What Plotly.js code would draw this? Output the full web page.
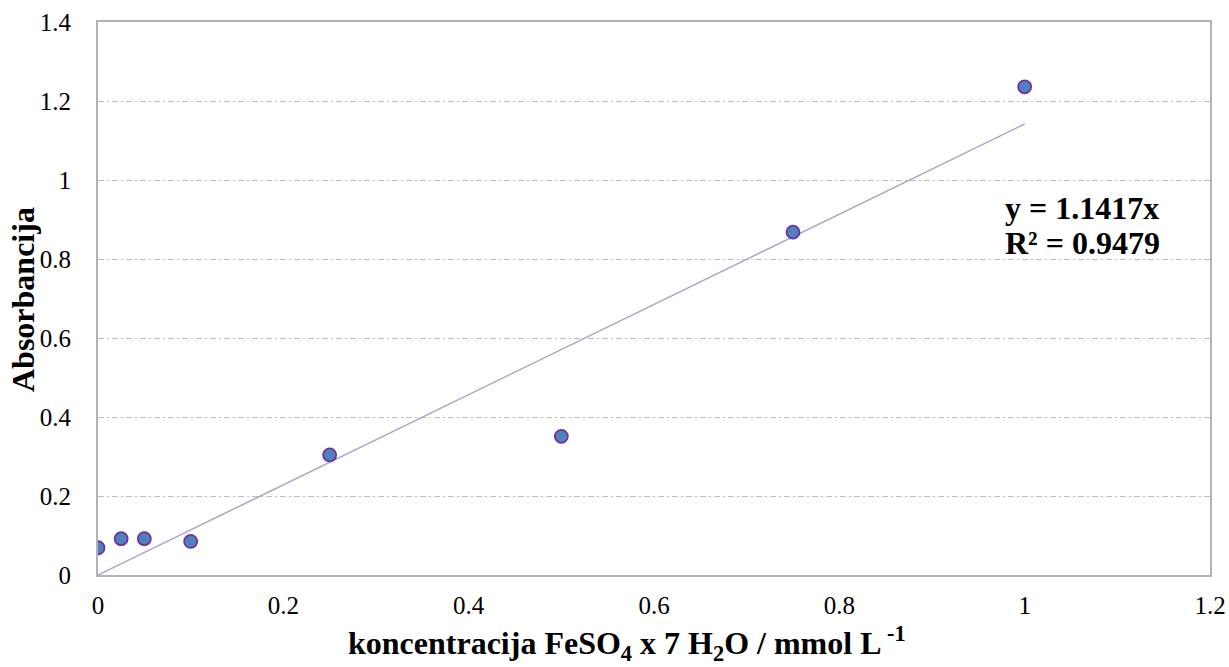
<!DOCTYPE html>
<html>
<head>
<meta charset="utf-8">
<script src="https://cdn.plot.ly/plotly-3.0.1.min.js"></script>
<style>html,body{margin:0;padding:0;background:#fff;}#chart{width:1229px;height:667px;}</style>
</head>
<body>
<div id="chart"></div>
<script>
const concentration = [0, 0.025, 0.05, 0.1, 0.25, 0.5, 0.75, 1.0];
const absorbance = [0.069, 0.092, 0.092, 0.085, 0.304, 0.351, 0.868, 1.236];
const slope = 1.1417;
const trendX = [0, 1.0];
const trendY = trendX.map(v => slope * v);
const equationText = 'y = 1.1417x';
const r2Text = 'R² = 0.9479';
const xTitle = 'koncentracija FeSO<sub>4</sub> x 7 H<sub>2</sub>O / mmol L<sup> -1</sup>';
const yTitle = 'Absorbancija';

const font = 'Liberation Serif, Times New Roman, serif';

const traces = [
  {x: trendX, y: trendY, mode: 'lines', type: 'scatter',
   line: {color: '#b3a2c7', width: 1.5}, hoverinfo: 'skip'},
  {x: concentration, y: absorbance, mode: 'markers', type: 'scatter',
   marker: {size: 13, color: '#4f81bd', line: {color: '#7030a0', width: 1.8}}}
];

const layout = {
  width: 1229, height: 667,
  margin: {l: 98, r: 19, t: 22, b: 92},
  paper_bgcolor: '#fff', plot_bgcolor: '#fff',
  showlegend: false,
  font: {family: font, color: '#000', size: 25},
  xaxis: {range: [0, 1.2], dtick: 0.2, showgrid: false, zeroline: false,
          showline: true, linecolor: '#b3b3b3', linewidth: 2, mirror: true,
          ticks: '', ticklabelstandoff: 7, tickfont: {size: 25, family: font}},
  yaxis: {range: [0, 1.4], dtick: 0.2, showgrid: true, gridcolor: '#bdbdbd', gridwidth: 1,
          griddash: '6px,3px,2px,3px', zeroline: false,
          showline: true, linecolor: '#b3b3b3', linewidth: 2, mirror: true,
          ticks: '', ticklabelstandoff: 20, tickfont: {size: 25, family: font}},
  annotations: [
    {xref: 'x', yref: 'y', x: 0.977, y: 0.929, xanchor: 'left', yanchor: 'middle', showarrow: false,
     text: '<b>' + equationText + '</b>', font: {size: 32, family: font}},
    {xref: 'x', yref: 'y', x: 0.977, y: 0.841, xanchor: 'left', yanchor: 'middle', showarrow: false,
     text: '<b>' + r2Text + '</b>', font: {size: 32, family: font}},
    {xref: 'paper', yref: 'paper', x: (627 - 98) / 1112, y: (575 - 643) / 553, xanchor: 'center', yanchor: 'middle',
     showarrow: false, text: '<b>' + xTitle + '</b>', font: {size: 32, family: font}},
    {xref: 'paper', yref: 'paper', x: (23 - 98) / 1112, y: (575 - 300) / 553, xanchor: 'center', yanchor: 'middle',
     showarrow: false, textangle: -90, text: '<b>' + yTitle + '</b>', font: {size: 32, family: font}}
  ]
};

Plotly.newPlot('chart', traces, layout, {displayModeBar: false, staticPlot: true});
</script>
</body>
</html>
